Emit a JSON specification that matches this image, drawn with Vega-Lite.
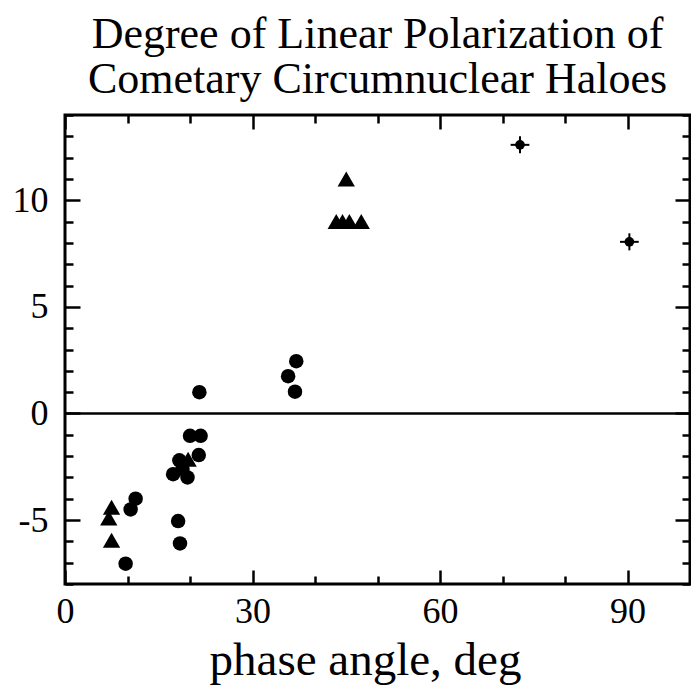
{
  "$schema": "https://vega.github.io/schema/vega-lite/v6.json",
  "width": 625,
  "height": 469,
  "autosize": "none",
  "padding": {"left": 65, "top": 115, "right": 1, "bottom": 111},
  "background": "white",
  "title": {
    "text": ["Degree of Linear Polarization of", "Cometary Circumnuclear Haloes"],
    "font": "Liberation Serif",
    "fontSize": 44,
    "fontWeight": "normal",
    "color": "black",
    "anchor": "middle",
    "lineHeight": 45,
    "offset": 12
  },
  "config": {
    "view": {"stroke": "black", "strokeWidth": 3},
    "axis": {
      "domain": false,
      "grid": false,
      "tickColor": "black",
      "tickWidth": 2.5,
      "labelFont": "Liberation Serif",
      "labelFontSize": 36,
      "labelColor": "black",
      "titleFont": "Liberation Serif",
      "titleFontWeight": "normal",
      "titleColor": "black"
    }
  },
  "datasets": {
    "circles": [
      {"phase": 21.5, "pol": 1.0},
      {"phase": 20.0, "pol": -1.05},
      {"phase": 21.7, "pol": -1.05},
      {"phase": 21.4, "pol": -1.95},
      {"phase": 17.3, "pol": -2.85},
      {"phase": 18.3, "pol": -2.2},
      {"phase": 18.8, "pol": -2.6},
      {"phase": 19.6, "pol": -3.0},
      {"phase": 18.1, "pol": -5.05},
      {"phase": 18.4, "pol": -6.1},
      {"phase": 9.7, "pol": -7.05},
      {"phase": 11.3, "pol": -4.0},
      {"phase": 10.5, "pol": -4.5},
      {"phase": 35.7, "pol": 1.75},
      {"phase": 37.0, "pol": 2.45},
      {"phase": 36.8, "pol": 1.02}
    ],
    "triangles": [
      {"phase": 7.45, "pol": -4.4},
      {"phase": 7.0, "pol": -4.9},
      {"phase": 7.45, "pol": -5.95},
      {"phase": 19.7, "pol": -2.15},
      {"phase": 45.0, "pol": 11.0},
      {"phase": 43.4, "pol": 9.0},
      {"phase": 44.4, "pol": 9.0},
      {"phase": 45.5, "pol": 9.0},
      {"phase": 47.4, "pol": 9.0}
    ],
    "crosses": [
      {"phase": 72.8, "pol": 12.6, "phaseLo": 71.3, "phaseHi": 74.3, "polLo": 12.2, "polHi": 13.0},
      {"phase": 90.3, "pol": 8.05, "phaseLo": 88.8, "phaseHi": 91.8, "polLo": 7.65, "polHi": 8.45}
    ],
    "zero": [{"pol": 0}]
  },
  "resolve": {"scale": {"x": "independent", "y": "independent"}},
  "layer": [
    {
      "layer": [
        {
          "data": {"name": "zero"},
          "mark": {"type": "rule", "color": "black", "strokeWidth": 2.5},
          "encoding": {
            "y": {
              "field": "pol",
              "type": "quantitative",
              "scale": {"domain": [-8, 14], "nice": false, "zero": false},
              "axis": {
                "orient": "left",
                "values": [-5, 0, 5, 10],
                "labelExpr": "'' + datum.value",
                "labelOverlap": false,
                "tickSize": -15,
                "labelPadding": 32,
                "title": null
              }
            }
          }
        },
        {
          "data": {"name": "circles"},
          "mark": {"type": "point", "shape": "circle", "filled": true, "color": "black", "opacity": 1, "size": 210},
          "encoding": {
            "x": {
              "field": "phase",
              "type": "quantitative",
              "scale": {"domain": [0, 100], "nice": false, "zero": false},
              "axis": {
                "orient": "bottom",
                "values": [0, 30, 60, 90],
                "labelExpr": "'' + datum.value",
                "labelOverlap": false,
                "tickSize": -14,
                "labelPadding": 24,
                "labelFlush": false,
                "title": "phase angle, deg",
                "titleFontSize": 47,
                "titlePadding": 8,
                "titleAnchor": "middle",
                "titleX": 300
              }
            },
            "y": {"field": "pol", "type": "quantitative"}
          }
        },
        {
          "data": {"name": "triangles"},
          "mark": {"type": "point", "shape": "triangle-up", "filled": true, "color": "black", "opacity": 1, "size": 300},
          "encoding": {
            "x": {"field": "phase", "type": "quantitative"},
            "y": {"field": "pol", "type": "quantitative"}
          }
        },
        {
          "data": {"name": "crosses"},
          "mark": {"type": "rule", "color": "black", "strokeWidth": 2},
          "encoding": {
            "x": {"field": "phaseLo", "type": "quantitative"},
            "x2": {"field": "phaseHi"},
            "y": {"field": "pol", "type": "quantitative"}
          }
        }
      ]
    },
    {
      "data": {"name": "crosses"},
      "mark": {"type": "point", "shape": "circle", "filled": true, "color": "black", "opacity": 1, "size": 95},
      "encoding": {
        "x": {
          "field": "phase",
          "type": "quantitative",
          "scale": {"domain": [0, 100], "nice": false, "zero": false},
          "axis": {
            "orient": "top",
            "values": [0, 10, 20, 30, 40, 50, 60, 70, 80, 90, 100],
            "labels": false,
            "tickSize": {"condition": {"test": "datum.value % 30 === 0", "value": -14}, "value": -8},
            "title": null
          }
        },
        "y": {
          "field": "pol",
          "type": "quantitative",
          "scale": {"domain": [-8, 14], "nice": false, "zero": false},
          "axis": {
            "orient": "right",
            "values": [-8, -7, -6, -5, -4, -3, -2, -1, 0, 1, 2, 3, 4, 5, 6, 7, 8, 9, 10, 11, 12, 13, 14],
            "labels": false,
            "tickSize": {"condition": {"test": "datum.value % 5 === 0", "value": -15}, "value": -8},
            "title": null
          }
        }
      }
    },
    {
      "data": {"name": "crosses"},
      "mark": {"type": "rule", "color": "black", "strokeWidth": 2},
      "encoding": {
        "x": {
          "field": "phase",
          "type": "quantitative",
          "scale": {"domain": [0, 100], "nice": false, "zero": false},
          "axis": {
            "orient": "bottom",
            "values": [10, 20, 40, 50, 70, 80, 100],
            "labels": false,
            "tickSize": -8,
            "title": null
          }
        },
        "y": {
          "field": "polLo",
          "type": "quantitative",
          "scale": {"domain": [-8, 14], "nice": false, "zero": false},
          "axis": {
            "orient": "left",
            "values": [-8, -7, -6, -4, -3, -2, -1, 1, 2, 3, 4, 6, 7, 8, 9, 11, 12, 13, 14],
            "labels": false,
            "tickSize": -8,
            "title": null
          }
        },
        "y2": {"field": "polHi"}
      }
    }
  ]
}
